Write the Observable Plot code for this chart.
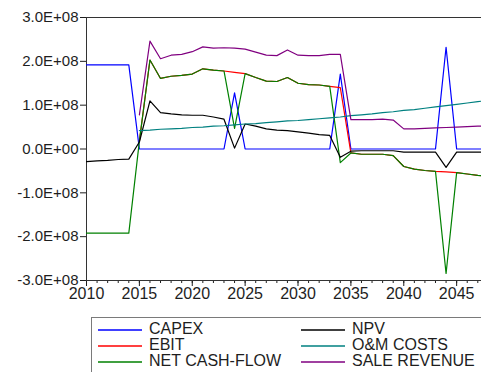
<!DOCTYPE html>
<html>
<head>
<meta charset="utf-8">
<script src="https://cdn.jsdelivr.net/npm/d3@7"></script>
<script src="https://cdn.jsdelivr.net/npm/@observablehq/plot@0.6"></script>
<style>
  html, body { margin: 0; padding: 0; background: #fff; }
  #wrap { position: relative; width: 481px; height: 372px; overflow: hidden; font-family: "Liberation Sans", Arial, sans-serif; color: #1e1e1e; }
  #legend { position: absolute; left: 91px; top: 317px; width: 420px; height: 80px; border: 1px solid #7a7a7a; box-sizing: border-box; }
  .item { position: absolute; font-size: 16px; line-height: 16px; white-space: nowrap; }
  .item .swatch { position: absolute; top: 8px; width: 44px; height: 0; }
  .item .name { position: absolute; left: 51px; top: 0; }
</style>
</head>
<body>
<div id="wrap">
  <div id="chart"></div>
  <div id="legend"></div>
</div>
<script>
// Project cash-flow series, in units of 1E+08, one value per year (null = not yet in operation)
const years = d3.range(2010, 2049);

const capex = [
  1.92, 1.92, 1.92, 1.92, 1.92,
  0, 0, 0, 0, 0, 0, 0, 0, 0,
  1.28,
  0, 0, 0, 0, 0, 0, 0, 0, 0,
  1.71,
  0, 0, 0, 0, 0, 0, 0, 0, 0,
  2.32,
  0, 0, 0, 0
];

const ebit = [
  null, null, null, null, null,
  0.18, 2.03, 1.61, 1.66, 1.68, 1.71, 1.83, 1.80, 1.78,
  1.75,
  1.72, 1.63, 1.55, 1.54, 1.63, 1.50, 1.47, 1.46, 1.43,
  1.40,
  -0.09, -0.12, -0.12, -0.12, -0.15, -0.40, -0.46, -0.49, -0.51,
  -0.52,
  -0.54, -0.57, -0.60, -0.62
];

const netCashFlow = [
  -1.92, -1.92, -1.92, -1.92, -1.92,
  0.18, 2.03, 1.61, 1.66, 1.68, 1.71, 1.83, 1.80, 1.78,
  0.47,
  1.72, 1.63, 1.55, 1.54, 1.63, 1.50, 1.47, 1.46, 1.43,
  -0.31,
  -0.09, -0.12, -0.12, -0.12, -0.15, -0.40, -0.46, -0.49, -0.51,
  -2.84,
  -0.54, -0.57, -0.60, -0.62
];

const npv = [
  -0.29, -0.27, -0.26, -0.24, -0.23,
  0.16, 1.10, 0.83, 0.80, 0.78, 0.77, 0.77, 0.73, 0.68,
  0.02,
  0.57, 0.52, 0.46, 0.43, 0.42, 0.39, 0.36, 0.33, 0.31,
  -0.19,
  -0.05, -0.04, -0.04, -0.04, -0.04, -0.07, -0.07, -0.07, -0.07,
  -0.42,
  -0.07, -0.07, -0.07, -0.07
];

const omCosts = [
  null, null, null, null, null,
  0.42, 0.43, 0.45, 0.46, 0.47, 0.49, 0.50, 0.52, 0.53,
  0.55,
  0.57, 0.58, 0.60, 0.62, 0.64, 0.65, 0.67, 0.69, 0.71,
  0.73,
  0.76, 0.78, 0.80, 0.83, 0.85, 0.88, 0.90, 0.93, 0.96,
  0.99,
  1.02, 1.05, 1.08, 1.11
];

const saleRevenue = [
  null, null, null, null, null,
  0.78, 2.46, 2.06, 2.14, 2.16, 2.22, 2.33, 2.30, 2.31,
  2.30,
  2.28, 2.21, 2.14, 2.13, 2.26, 2.14, 2.13, 2.13, 2.16,
  2.16,
  0.67, 0.67, 0.67, 0.68, 0.66, 0.46, 0.46, 0.47, 0.48,
  0.49,
  0.50, 0.51, 0.52, 0.53
];

const seriesNames = ["CAPEX", "EBIT", "NET CASH-FLOW", "NPV", "O&M COSTS", "SALE REVENUE"];
const seriesValues = [capex, ebit, netCashFlow, npv, omCosts, saleRevenue];
const seriesColors = ["#0000ff", "#ff0000", "#008000", "#000000", "#008080", "#800080"];

const yTicks = [-3e8, -2e8, -1e8, 0, 1e8, 2e8, 3e8];
const yTickLabels = ["-3.0E+08", "-2.0E+08", "-1.0E+08", "0.0E+00", "1.0E+08", "2.0E+08", "3.0E+08"];
const xMajorTicks = [2010, 2015, 2020, 2025, 2030, 2035, 2040, 2045];
const xMinorTicks = d3.range(2010, 2048);

const unit = 1e8;

// long table, one series after another so later series draw on top
const table = seriesNames.flatMap((name, s) =>
  years.map((year, i) => ({
    year,
    series: name,
    value: seriesValues[s][i] == null ? null : seriesValues[s][i] * unit
  }))
);

const chart = Plot.plot({
  width: 481,
  height: 305,
  marginLeft: 86,
  marginRight: 0,
  marginTop: 17,
  marginBottom: 25,
  x: {domain: [2010, 2047.35]},
  y: {domain: [-3e8, 3e8]},
  color: {domain: seriesNames, range: seriesColors},
  style: {fontFamily: "'Liberation Sans', Arial, sans-serif", color: "#1e1e1e", background: "#fff", overflow: "visible"},
  marks: [
    Plot.axisY({
      ticks: yTicks,
      tickFormat: d => yTickLabels[yTicks.indexOf(d)],
      tickSize: 6,
      tickPadding: 2,
      fontSize: 15,
      label: null
    }),
    Plot.axisX({ticks: xMinorTicks, tickSize: 3, tickFormat: () => "", label: null}),
    Plot.axisX({
      ticks: xMajorTicks,
      tickSize: 6,
      tickPadding: 1,
      tickFormat: d => String(d),
      fontSize: 16,
      label: null
    }),
    Plot.ruleY([3e8], {stroke: "#333"}),
    Plot.ruleY([-3e8], {stroke: "#333"}),
    Plot.ruleX([2010], {stroke: "#333"}),
    Plot.line(table, {
      x: "year",
      y: "value",
      z: "series",
      stroke: "series",
      strokeWidth: 1.2,
      clip: true
    })
  ]
});
document.getElementById("chart").appendChild(chart);

// legend: two columns, three rows
const legend = document.getElementById("legend");
seriesNames.forEach((name, i) => {
  const col = Math.floor(i / 3), row = i % 3;
  const item = document.createElement("div");
  item.className = "item";
  item.style.left = (col === 0 ? 6 : 209) + "px";
  item.style.top = (3 + row * 16) + "px";
  const sw = document.createElement("div");
  sw.className = "swatch";
  sw.style.borderTop = `2px solid ${seriesColors[i]}`;
  sw.style.opacity = 0.75;
  const label = document.createElement("span");
  label.className = "name";
  label.textContent = name;
  item.appendChild(sw);
  item.appendChild(label);
  legend.appendChild(item);
});
</script>
</body>
</html>
